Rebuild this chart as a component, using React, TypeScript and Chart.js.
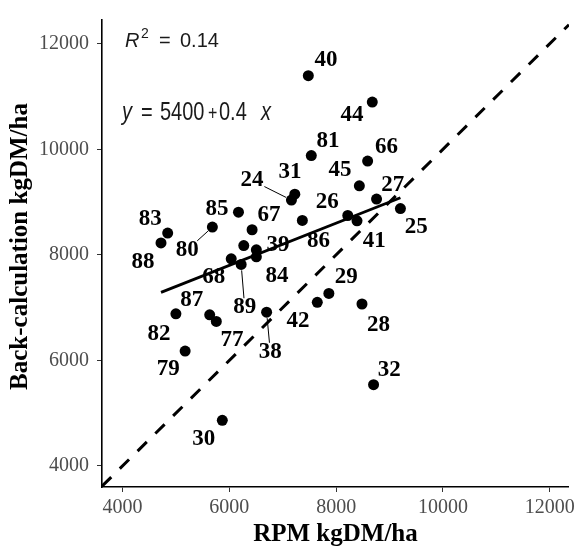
import React, { useEffect, useRef } from "react";
import { Chart, registerables } from "chart.js";

Chart.register(...registerables);

// ---- data ----
const pointIds = ["40", "44", "81", "66", "45", "31", "24", "27", "25", "26", "86", "41", "83", "88", "80", "85", "67", "", "39", "84", "68", "89", "82", "87", "77", "79", "30", "38", "29", "42", "28", "32"];
const rpm = [7479, 8677, 7535, 8590, 8435, 7226, 7163, 8757, 9204, 7367, 8218, 8391, 4845, 4720, 5682, 6171, 6426, 6270, 6506, 6506, 6035, 6221, 4999, 5632, 5756, 5172, 5868, 6698, 7864, 7647, 8484, 8701];
const backCalc = [11394, 10894, 9881, 9776, 9307, 9150, 9037, 9056, 8876, 8651, 8745, 8644, 8413, 8225, 8525, 8807, 8475, 8175, 8094, 7963, 7925, 7818, 6881, 6862, 6738, 6176, 4863, 6913, 7269, 7100, 7068, 5538];
// label anchor positions (data units, as placed by the label repel)
const labelRpm = [7808, 8298, 7849, 8943, 8074, 7135, 6422, 9059, 9501, 7833, 7672, 8716, 4519, 4385, 5213, 5771, 6742, 0, 6910, 6891, 5706, 6288, 4683, 5297, 6050, 4856, 5520, 6767, 8190, 7287, 8794, 8995];
const labelBack = [11694, 10648, 10157, 10044, 9613, 9570, 9412, 9319, 8525, 8998, 8257, 8257, 8685, 7856, 8094, 8867, 8756, 0, 8194, 7588, 7569, 7007, 6491, 7142, 6382, 5829, 4513, 6163, 7579, 6738, 6678, 5820];
const leaderIds = ["24", "80", "89", "38"];

const xTicks = [4000, 6000, 8000, 10000, 12000];
const yTicks = [4000, 6000, 8000, 10000, 12000];
const xRange = [3615, 12360];
const yRange = [3600, 12450];

const intercept = 5400;
const slope = 0.4;
const rSquared = "0.14";

const xTitle = "RPM kgDM/ha";
const yTitle = "Back-calculation kgDM/ha";

const SERIF = '"Liberation Serif", "Times New Roman", serif';
const SANS = '"Liberation Sans", Arial, sans-serif';

const labelPlugin = {
  id: "pointLabels",
  beforeDatasetsDraw(chart: any) {
    const { ctx, scales } = chart;
    const x = scales.x;
    const y = scales.y;
    ctx.save();
    ctx.font = `bold 23px ${SERIF}`;
    ctx.textAlign = "center";
    ctx.textBaseline = "middle";
    ctx.fillStyle = "#000";
    ctx.strokeStyle = "#000";
    ctx.lineWidth = 1;
    pointIds.forEach((id, i) => {
      if (!id) return;
      const lx = x.getPixelForValue(labelRpm[i]);
      const ly = y.getPixelForValue(labelBack[i]);
      if (leaderIds.includes(id)) {
        const px = x.getPixelForValue(rpm[i]);
        const py = y.getPixelForValue(backCalc[i]);
        const dx = px - lx;
        const dy = py - ly;
        const hw = ctx.measureText(id).width / 2 + 1;
        const hh = 9;
        const tx = dx !== 0 ? Math.abs(hw / dx) : Infinity;
        const ty = dy !== 0 ? Math.abs(hh / dy) : Infinity;
        const t = Math.min(tx, ty);
        const len = Math.hypot(dx, dy);
        ctx.beginPath();
        ctx.moveTo(lx + dx * t, ly + dy * t);
        ctx.lineTo(px - (dx / len) * 6, py - (dy / len) * 6);
        ctx.stroke();
      }
      ctx.fillText(id, lx, ly);
    });
    ctx.restore();
  },
  afterDraw(chart: any) {
    const { ctx, chartArea } = chart;
    ctx.save();
    // y axis title
    ctx.fillStyle = "#000";
    ctx.font = `bold 25px ${SERIF}`;
    ctx.textAlign = "center";
    ctx.textBaseline = "middle";
    ctx.translate(21, (chartArea.top + chartArea.bottom) / 2 - 7);
    ctx.rotate(-Math.PI / 2);
    ctx.fillText(yTitle, 0, 0);
    ctx.restore();

    ctx.save();
    ctx.fillStyle = "#1a1a1a";
    ctx.textBaseline = "alphabetic";
    ctx.textAlign = "left";
    const l = chartArea.left;
    const t = chartArea.top;
    // R^2 = 0.14
    const b1 = t + 27;
    ctx.font = `italic 20px ${SANS}`;
    ctx.fillText("R", l + 23, b1);
    ctx.font = `14px ${SANS}`;
    ctx.fillText("2", l + 39, b1 - 9);
    ctx.font = `20px ${SANS}`;
    ctx.fillText("=", l + 57, b1);
    ctx.fillText(rSquared, l + 78, b1);
    // y = 5400 + 0.4 x
    const b2 = t + 100;
    const piece = (txt: string, px: number, italic: boolean, size = 20) => {
      ctx.save();
      ctx.translate(l + px, b2);
      ctx.scale(1, 1.25);
      ctx.font = `${italic ? "italic " : ""}${size}px ${SANS}`;
      ctx.fillText(txt, 0, 0);
      ctx.restore();
    };
    piece("y", 20, true);
    piece("=", 39, false);
    piece(String(intercept), 58, false);
    piece("+", 106, false, 16);
    piece(String(slope), 117, false);
    piece("x", 159, true);
    ctx.restore();
  },
};

export default function App() {
  const canvasRef = useRef<HTMLCanvasElement | null>(null);

  useEffect(() => {
    const canvas = canvasRef.current;
    if (!canvas) return;
    const minX = Math.min(...rpm);
    const maxX = Math.max(...rpm);
    const chart = new Chart(canvas, {
      type: "scatter",
      data: {
        datasets: [
          {
            label: "sites",
            data: rpm.map((v, i) => ({ x: v, y: backCalc[i] })),
            pointRadius: 5.5,
            pointBackgroundColor: "#000",
            pointBorderWidth: 0,
            pointHoverRadius: 5.5,
          },
          {
            type: "line",
            label: "fit",
            data: [
              { x: minX, y: intercept + slope * minX },
              { x: maxX, y: intercept + slope * maxX },
            ],
            borderColor: "#000",
            borderWidth: 2.8,
            pointRadius: 0,
            fill: false,
          },
          {
            type: "line",
            label: "1:1",
            data: [
              { x: xRange[0], y: xRange[0] },
              { x: xRange[1], y: xRange[1] },
            ],
            borderColor: "#000",
            borderWidth: 3,
            borderDash: [13, 12],
            pointRadius: 0,
            fill: false,
          },
        ],
      } as any,
      options: {
        animation: false,
        responsive: true,
        maintainAspectRatio: false,
        layout: { padding: { top: 15, right: 7, left: 0, bottom: 0 } },
        plugins: {
          legend: { display: false },
          tooltip: { enabled: false },
        },
        events: [],
        scales: {
          x: {
            type: "linear",
            min: xRange[0],
            max: xRange[1],
            afterBuildTicks: (s: any) => {
              s.ticks = xTicks.map((v) => ({ value: v }));
            },
            afterFit: (s: any) => {
              s.height = 60;
            },
            ticks: {
              font: { family: SERIF, size: 20 },
              color: "#4d4d4d",
              padding: 4,
              maxRotation: 0,
              callback: (v: any) => String(v),
            },
            grid: {
              display: true,
              drawOnChartArea: false,
              drawTicks: true,
              tickLength: 5,
              color: "#333",
              lineWidth: 1,
            },
            border: { display: true, color: "#000", width: 1.6 },
            title: {
              display: true,
              text: xTitle,
              color: "#000",
              font: { family: SERIF, size: 25, weight: "bold", lineHeight: 1 },
              padding: { top: 0, bottom: 0 },
            },
          },
          y: {
            type: "linear",
            min: yRange[0],
            max: yRange[1],
            afterBuildTicks: (s: any) => {
              s.ticks = yTicks.map((v) => ({ value: v }));
            },
            afterFit: (s: any) => {
              s.width = 102;
            },
            ticks: {
              font: { family: SERIF, size: 20 },
              color: "#4d4d4d",
              padding: 8,
              callback: (v: any) => String(v),
            },
            grid: {
              display: true,
              drawOnChartArea: false,
              drawTicks: true,
              tickLength: 5,
              color: "#333",
              lineWidth: 1,
            },
            border: { display: true, color: "#000", width: 1.6 },
            title: { display: false },
          },
        },
      } as any,
      plugins: [labelPlugin],
    });
    return () => chart.destroy();
  }, []);

  return (
    <div style={{ position: "absolute", left: 0, top: 0, width: 579, height: 547, background: "#fff" }}>
      <canvas ref={canvasRef} />
    </div>
  );
}
